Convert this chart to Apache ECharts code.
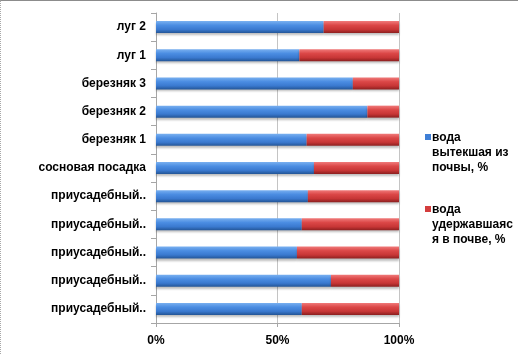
<!DOCTYPE html>
<html>
<head>
<meta charset="utf-8">
<script src="https://cdn.jsdelivr.net/npm/echarts@6/dist/echarts.min.js"></script>
<style>
  html, body { margin: 0; padding: 0; background: #fff; }
  #frame { position: absolute; left: 0; top: 0; width: 517px; height: 353px;
           border-top: 1px solid #8c8c8c; border-left: 1px dotted #a8a8a8; }
  #chart { position: absolute; left: 0; top: 0; width: 519px; height: 355px; }
</style>
</head>
<body>
<div id="frame"></div>
<div id="chart"></div>
<script>
// categories, bottom to top
const categories = [
  'приусадебный..', 'приусадебный..', 'приусадебный..', 'приусадебный..', 'приусадебный..',
  'сосновая посадка', 'березняк 1', 'березняк 2', 'березняк 3', 'луг 1', 'луг 2'
];
const seriesNames = ['вода вытекшая из почвы, %', 'вода удержавшаяся в почве, %'];
const legendLabels = ['вода\nвытекшая из\nпочвы, %', 'вода\nудержавшаяс\nя в почве, %'];
const outflow  = [60, 72, 58, 60, 62.5, 65, 62, 87, 81, 59, 69];
const retained = [40, 28, 42, 40, 37.5, 35, 38, 13, 19, 41, 31];
const xTicks = [0, 50, 100];

const chart = echarts.init(document.getElementById('chart'), null, { renderer: 'canvas' });

function grad(c0, c1, c2, c3) {
  return new echarts.graphic.LinearGradient(0, 0, 0, 1, [
    { offset: 0, color: c0 }, { offset: 0.35, color: c1 },
    { offset: 0.7, color: c2 }, { offset: 1, color: c3 }
  ]);
}
const blue = grad('#79b0f0', '#4b8de2', '#3a79cf', '#235596');
const red = grad('#f07a7a', '#db4747', '#c73636', '#8c1f1f');

const iconPath = 'path://M0,0h0.01v0.01h-0.01z M0,4h6v6h-6z M0,44.9h0.01v0.01h-0.01z';

chart.setOption({
  animation: false,
  textStyle: { fontFamily: 'Liberation Sans, Arial, sans-serif' },
  grid: { left: 156, right: 120, top: 13, bottom: 32 },
  legend: {
    orient: 'vertical',
    left: 420, top: 125,
    itemWidth: 6, itemHeight: 45, itemGap: 27,
    icon: iconPath,
    data: [
      { name: seriesNames[0], itemStyle: { color: '#3f7fd6' } },
      { name: seriesNames[1], itemStyle: { color: '#d43d3d' } }
    ],
    formatter: function (n) { return legendLabels[seriesNames.indexOf(n)]; },
    textStyle: { fontSize: 12, fontWeight: 'bold', color: '#000', lineHeight: 15,
                 fontFamily: 'Liberation Sans, Arial, sans-serif', padding: [0, 0, 0, -4] }
  },
  xAxis: {
    type: 'value', min: xTicks[0], max: xTicks[xTicks.length - 1], interval: 50,
    axisLine: { show: true, lineStyle: { color: '#a6a6a6' } },
    axisTick: { show: true, length: 4, lineStyle: { color: '#a6a6a6' } },
    splitLine: { show: true, lineStyle: { color: '#c4c4c4' } },
    axisLabel: { formatter: '{value}%', fontSize: 12, fontWeight: 'bold', color: '#000', margin: 12,
                 fontFamily: 'Liberation Sans, Arial, sans-serif' }
  },
  yAxis: {
    type: 'category', data: categories,
    axisLine: { show: true, lineStyle: { color: '#a6a6a6' } },
    axisTick: { show: true, length: 5, lineStyle: { color: '#a6a6a6' } },
    axisLabel: { fontSize: 12, fontWeight: 'bold', color: '#000', margin: 10,
                 fontFamily: 'Liberation Sans, Arial, sans-serif' }
  },
  series: [
    { name: seriesNames[0], type: 'bar', stack: 'total', data: outflow, barWidth: 12,
      itemStyle: { color: blue, shadowColor: 'rgba(0,0,0,0.25)', shadowBlur: 2, shadowOffsetY: 2 } },
    { name: seriesNames[1], type: 'bar', stack: 'total', data: retained, barWidth: 12,
      itemStyle: { color: red, shadowColor: 'rgba(0,0,0,0.25)', shadowBlur: 2, shadowOffsetY: 2 } }
  ]
});
</script>
</body>
</html>
